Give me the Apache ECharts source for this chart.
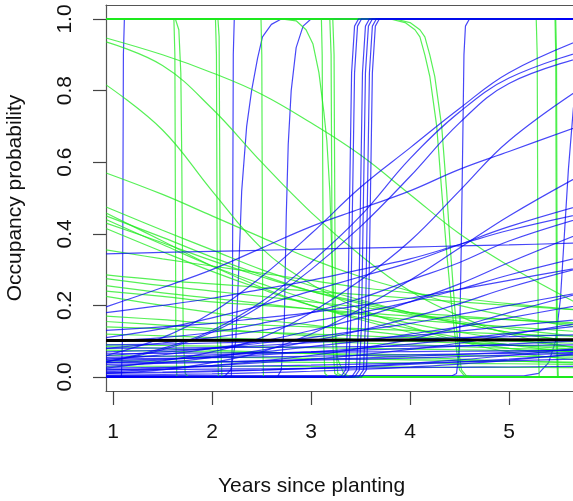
<!DOCTYPE html>
<html><head><meta charset="utf-8">
<script src="https://cdn.jsdelivr.net/npm/echarts@6/dist/echarts.min.js"></script>
<style>html,body{margin:0;padding:0;background:#fff;overflow:hidden}#c{width:573px;height:501px}</style>
</head><body><div id="c"></div>
<script>
// ---- axis values ----
const xs = [0.93, 1.5, 2, 2.5, 3, 3.5, 4, 4.5, 5, 5.8];
const yTicks = [0, 0.2, 0.4, 0.6, 0.8, 1.0];
const xTicks = [1, 2, 3, 4, 5];
const xTitle = 'Years since planting';
const yTitle = 'Occupancy probability';

// ---- green (slowly changing) curves, values at xs ----
const g01 = [0.947,0.90,0.85,0.79,0.71,0.62,0.51,0.40,0.31,0.19];
const g02 = [0.936,0.87,0.75,0.60,0.46,0.34,0.24,0.17,0.12,0.075];
const g03 = [0.816,0.69,0.52,0.36,0.26,0.19,0.14,0.10,0.07,0.045];
const g04 = [0.57,0.51,0.45,0.39,0.33,0.28,0.24,0.20,0.17,0.135];
const g05 = [0.475,0.41,0.355,0.30,0.255,0.215,0.18,0.15,0.125,0.095];
const g06 = [0.458,0.38,0.31,0.25,0.20,0.16,0.125,0.10,0.08,0.055];
const g07 = [0.45,0.39,0.335,0.285,0.24,0.205,0.175,0.15,0.125,0.095];
const g08 = [0.44,0.37,0.31,0.26,0.215,0.18,0.15,0.125,0.105,0.08];
const g09 = [0.43,0.375,0.325,0.28,0.24,0.21,0.18,0.155,0.135,0.11];
const g10 = [0.415,0.35,0.295,0.245,0.20,0.165,0.135,0.11,0.09,0.065];
const g11 = [0.355,0.33,0.31,0.29,0.27,0.25,0.235,0.22,0.205,0.185];
const g12 = [0.285,0.27,0.26,0.25,0.24,0.23,0.22,0.21,0.20,0.185];
const g13 = [0.275,0.255,0.24,0.225,0.21,0.195,0.18,0.17,0.16,0.145];
const g14 = [0.255,0.235,0.22,0.205,0.19,0.175,0.16,0.15,0.14,0.125];
const g15 = [0.24,0.225,0.21,0.20,0.19,0.18,0.17,0.165,0.16,0.15];
const g16 = [0.225,0.20,0.18,0.16,0.145,0.13,0.115,0.10,0.09,0.075];
const g17 = [0.17,0.16,0.15,0.145,0.14,0.135,0.13,0.125,0.12,0.113];
const g18 = [0.155,0.145,0.135,0.125,0.115,0.105,0.10,0.095,0.09,0.083];
const g19 = [0.14,0.135,0.13,0.125,0.12,0.115,0.11,0.105,0.10,0.093];
const g20 = [0.12,0.115,0.11,0.105,0.10,0.095,0.09,0.085,0.08,0.073];
const g21 = [0.09,0.088,0.086,0.084,0.082,0.08,0.078,0.076,0.074,0.071];
const g22 = [0.075,0.072,0.07,0.068,0.066,0.064,0.062,0.06,0.058,0.055];
const g23 = [0.06,0.058,0.056,0.054,0.052,0.05,0.048,0.046,0.044,0.041];
const g24 = [0.045,0.044,0.043,0.042,0.041,0.04,0.039,0.038,0.037,0.035];
const g25 = [0.085,0.08,0.075,0.07,0.065,0.06,0.055,0.05,0.045,0.038];
const g26 = [0.03,0.03,0.03,0.03,0.029,0.029,0.028,0.028,0.027,0.026];
const greenSmooth = [g01,g02,g03,g04,g05,g06,g07,g08,g09,g10,g11,g12,g13,g14,g15,g16,g17,g18,g19,g20,g21,g22,g23,g24,g25,g26];

// ---- green steep drops, [x, y] points ----
const gs01 = [[0.93,1],[1.615,1],[1.625,0.9],[1.63,0.5],[1.635,0.1],[1.645,0],[5.8,0]];
const gs02 = [[0.93,1],[1.63,1],[1.665,0.97],[1.685,0.85],[1.695,0.6],[1.70,0.4],[1.71,0.1],[1.73,0.01],[1.76,0],[5.8,0]];
const gs03 = [[0.93,1],[2.035,1],[2.045,0.9],[2.05,0.5],[2.055,0.1],[2.065,0],[5.8,0]];
const gs04 = [[0.93,1],[2.06,1],[2.072,0.95],[2.08,0.5],[2.087,0.1],[2.1,0],[5.8,0]];
const gs05 = [[0.93,1],[2.495,1],[2.503,0.9],[2.508,0.5],[2.513,0.1],[2.52,0],[5.8,0]];
const gs06 = [[0.93,1],[2.7,1],[2.85,0.995],[2.95,0.97],[3.02,0.93],[3.08,0.85],[3.13,0.74],[3.16,0.66],[3.19,0.52],[3.21,0.35],[3.24,0.15],[3.27,0.05],[3.33,0.01],[3.4,0],[5.8,0]];
const gs07 = [[0.93,1],[3.105,1],[3.113,0.9],[3.12,0.5],[3.127,0.1],[3.14,0.01],[3.18,0],[5.8,0]];
const gs08 = [[0.93,1],[3.19,1],[3.203,0.9],[3.21,0.5],[3.218,0.1],[3.24,0.01],[3.3,0],[5.8,0]];
const gs09 = [[0.93,1],[3.22,1],[3.233,0.9],[3.24,0.5],[3.248,0.1],[3.27,0.01],[3.35,0],[5.8,0]];
const gs10 = [[0.93,1],[3.8,1],[3.95,0.99],[4.05,0.97],[4.10,0.95],[4.15,0.9],[4.2,0.84],[4.24,0.76],[4.27,0.70],[4.32,0.52],[4.37,0.35],[4.42,0.2],[4.47,0.075],[4.5,0.02],[4.55,0.003],[4.65,0],[5.8,0]];
const gs11 = [[0.93,1],[3.85,1],[4.0,0.99],[4.1,0.97],[4.15,0.95],[4.2,0.9],[4.25,0.84],[4.29,0.76],[4.32,0.70],[4.37,0.52],[4.41,0.35],[4.45,0.2],[4.49,0.075],[4.52,0.02],[4.57,0.003],[4.67,0],[5.8,0]];
const gs12 = [[0.93,1],[5.275,1],[5.285,0.9],[5.29,0.5],[5.295,0.1],[5.305,0],[5.8,0]];
const gs13 = [[0.93,1],[5.465,1],[5.472,0.9],[5.476,0.5],[5.48,0.1],[5.49,0],[5.8,0]];
const gs14 = [[0.93,1],[5.472,1],[5.48,0.9],[5.484,0.5],[5.488,0.1],[5.498,0],[5.8,0]];
const greenSteep = [gs01,gs02,gs03,gs04,gs05,gs06,gs07,gs08,gs09,gs10,gs11,gs12,gs13,gs14];

// ---- blue steep rises (early), [x, y] points ----
const bs01 = [[0.93,0],[1.085,0],[1.095,0.1],[1.10,0.5],[1.105,0.9],[1.115,1],[5.8,1]];
const bs02 = [[0.93,0],[2.195,0],[2.205,0.1],[2.21,0.5],[2.215,0.9],[2.225,1],[5.8,1]];
const bs03 = [[0.93,0],[2.12,0],[2.19,0.02],[2.24,0.1],[2.27,0.3],[2.30,0.52],[2.35,0.70],[2.40,0.80],[2.46,0.89],[2.51,0.95],[2.6,0.985],[2.7,1],[5.8,1]];
const bs04 = [[0.93,0],[2.66,0],[2.7,0.02],[2.73,0.15],[2.75,0.45],[2.77,0.65],[2.8,0.8],[2.85,0.92],[2.92,0.98],[3.0,1],[5.8,1]];
const bs05 = [[0.93,0.003],[4.42,0.003],[4.47,0.01],[4.5,0.08],[4.52,0.4],[4.53,0.6],[4.545,0.9],[4.56,0.98],[4.6,1],[5.8,1]];
const bs06 = [[0.93,0.003],[5.15,0.003],[5.3,0.01],[5.4,0.04],[5.47,0.1],[5.52,0.22],[5.56,0.4],[5.6,0.58],[5.65,0.75],[5.7,0.86],[5.8,0.95]];
const blueEarly = [bs01,bs02,bs03,bs04,bs05,bs06];

// ---- blue slowly rising curves, values at xs ----
const b01 = [0.06,0.11,0.18,0.28,0.40,0.53,0.64,0.75,0.85,0.95];
const b02 = [0.043,0.08,0.13,0.21,0.32,0.45,0.61,0.74,0.835,0.915];
const b03 = [0.042,0.076,0.125,0.20,0.30,0.42,0.56,0.71,0.82,0.897];
const b04 = [0.025,0.045,0.07,0.11,0.18,0.27,0.38,0.52,0.66,0.82];
const b05 = [0.196,0.25,0.30,0.36,0.42,0.47,0.52,0.58,0.63,0.71];
const b06 = [0.18,0.20,0.22,0.245,0.27,0.30,0.33,0.37,0.41,0.46];
const b07 = [0.11,0.135,0.165,0.20,0.24,0.28,0.32,0.37,0.42,0.485];
const b08 = [0.10,0.11,0.125,0.15,0.18,0.22,0.27,0.32,0.38,0.45];
const b09 = [0.05,0.062,0.08,0.10,0.13,0.165,0.21,0.26,0.32,0.41];
const b10 = [0.08,0.095,0.11,0.13,0.155,0.18,0.21,0.245,0.285,0.34];
const b11 = [0.03,0.04,0.055,0.075,0.10,0.13,0.165,0.205,0.25,0.31];
const b12 = [0.06,0.07,0.08,0.095,0.11,0.13,0.15,0.175,0.20,0.24];
const b13 = [0.015,0.022,0.032,0.045,0.06,0.08,0.105,0.14,0.18,0.24];
const b14 = [0.04,0.048,0.058,0.07,0.085,0.10,0.12,0.14,0.165,0.205];
const b15 = [0.07,0.075,0.08,0.088,0.096,0.105,0.115,0.128,0.142,0.163];
const b16 = [0.02,0.025,0.032,0.04,0.05,0.062,0.077,0.095,0.118,0.155];
const b17 = [0.09,0.092,0.095,0.098,0.10,0.103,0.106,0.11,0.113,0.119];
const b18 = [0.055,0.058,0.062,0.066,0.07,0.075,0.08,0.086,0.092,0.102];
const b19 = [0.035,0.038,0.041,0.045,0.049,0.053,0.058,0.063,0.069,0.078];
const b20 = [0.012,0.014,0.017,0.02,0.024,0.029,0.035,0.042,0.05,0.065];
const b21 = [0.025,0.027,0.029,0.031,0.033,0.036,0.039,0.042,0.045,0.051];
const b22 = [0.065,0.066,0.067,0.068,0.069,0.07,0.071,0.072,0.073,0.075];
const b23 = [0.005,0.007,0.009,0.012,0.016,0.021,0.028,0.036,0.047,0.068];
const b24 = [0.045,0.05,0.055,0.062,0.07,0.08,0.092,0.106,0.122,0.145];
const b25 = [0.13,0.14,0.15,0.165,0.18,0.20,0.22,0.245,0.27,0.31];
const b26 = [0.01,0.012,0.015,0.019,0.024,0.03,0.038,0.048,0.06,0.083];
const b27 = [0.01,0.02,0.04,0.07,0.12,0.19,0.27,0.36,0.45,0.575];
const b28 = [0.344,0.348,0.351,0.354,0.357,0.36,0.363,0.366,0.369,0.375];
const b29 = [0.05,0.052,0.054,0.056,0.058,0.06,0.062,0.064,0.066,0.069];
const b30 = [0.08,0.081,0.082,0.083,0.084,0.085,0.086,0.087,0.088,0.09];
const b31 = [0.02,0.021,0.022,0.023,0.024,0.025,0.026,0.027,0.028,0.03];
const b32 = [0.04,0.041,0.043,0.045,0.047,0.05,0.053,0.057,0.061,0.067];
const blueSmooth = [b01,b02,b03,b04,b05,b06,b07,b08,b09,b10,b11,b12,b13,b14,b15,b16,b17,b18,b19,b20,b21,b22,b23,b24,b25,b26,b27,b28,b29,b30,b31,b32];

// ---- blue steep rises (late), [x, y] points ----
const bl01 = [[0.93,0],[3.3,0],[3.35,0.02],[3.37,0.15],[3.39,0.5],[3.41,0.85],[3.44,0.98],[3.48,1],[5.8,1]];
const bl02 = [[0.93,0],[3.33,0],[3.38,0.02],[3.40,0.15],[3.42,0.5],[3.44,0.85],[3.47,0.98],[3.51,1],[5.8,1]];
const bl03 = [[0.93,0],[3.41,0],[3.46,0.02],[3.48,0.15],[3.50,0.5],[3.52,0.85],[3.55,0.98],[3.59,1],[5.8,1]];
const bl04 = [[0.93,0],[3.44,0],[3.49,0.02],[3.51,0.15],[3.53,0.5],[3.55,0.85],[3.58,0.98],[3.62,1],[5.8,1]];
const bl05 = [[0.93,0],[3.48,0],[3.53,0.02],[3.55,0.15],[3.57,0.5],[3.59,0.85],[3.62,0.98],[3.66,1],[5.8,1]];
const bl06 = [[0.93,0],[3.51,0],[3.56,0.02],[3.58,0.15],[3.60,0.5],[3.62,0.85],[3.65,0.98],[3.69,1],[5.8,1]];
const blueLate = [bl01,bl02,bl03,bl04,bl05,bl06];

const blackLine = [[0.93,0.102],[5.8,0.104]];

// ---- build ----
const GREEN = 'rgba(30,235,30,0.75)';
const BLUE = 'rgba(0,0,245,0.72)';
function pairs(vals){ return xs.map((x,i)=>[x, vals[i]]); }
function mk(data, color, width, smooth){
  return {type:'line', data, symbol:'none', showSymbol:false, silent:true,
    smooth: smooth ? 0.4 : false, clip:true, xAxisIndex:0, yAxisIndex:0,
    lineStyle:{color, width}, emphasis:{disabled:true}};
}
const series = [];
blueEarly.forEach(d=>series.push(mk(d, BLUE, 1.2, false)));
greenSteep.forEach(d=>series.push(mk(d, GREEN, 1.2, false)));
greenSmooth.forEach(v=>series.push(mk(pairs(v), GREEN, 1.2, true)));
blueSmooth.forEach(v=>series.push(mk(pairs(v), BLUE, 1.2, true)));
blueLate.forEach(d=>series.push(mk(d, BLUE, 1.2, false)));
series.push(mk(blackLine, '#000', 3, false));

const chart = echarts.init(document.getElementById('c'), null, {renderer:'canvas'});
const FONT = 'Liberation Sans, Arial, Helvetica, sans-serif';
const XMIN = 0.9293, XMAX = 0.9293 + 700/99;
const boxLine = {show:true, onZero:false, lineStyle:{color:'#555', width:1.2}};
chart.setOption({
  animation:false,
  backgroundColor:'#fff',
  grid:{left:106, top:5, width:700, height:386, show:false, containLabel:false, outerBoundsMode:'none'},
  xAxis:[
    {type:'value', min:XMIN, max:XMAX, position:'bottom',
      axisLine:boxLine, splitLine:{show:false},
      axisTick:{show:true, customValues:xTicks, length:14, lineStyle:{color:'#444', width:1.2}},
      axisLabel:{customValues:xTicks, fontSize:21, color:'#111', margin:31, fontFamily:FONT,
        formatter:v=>String(v)}},
    {type:'value', min:XMIN, max:XMAX, position:'top',
      axisLine:boxLine, splitLine:{show:false}, axisTick:{show:false}, axisLabel:{show:false}}
  ],
  yAxis:{type:'value', min:-0.0391, max:1.0391, position:'left',
    axisLine:boxLine, splitLine:{show:false},
    axisTick:{show:true, customValues:yTicks, length:13, lineStyle:{color:'#444', width:1.2}},
    axisLabel:{customValues:yTicks, rotate:90, fontSize:21, color:'#111', margin:30, fontFamily:FONT,
      formatter:v=>v.toFixed(1)}},
  graphic:[
    {type:'text', left:218, top:476, style:{text:xTitle, font:'21px '+FONT, fill:'#111'}},
    {type:'text', x:15, y:198, rotation:Math.PI/2, style:{text:yTitle, font:'21px '+FONT, fill:'#111', align:'center', verticalAlign:'middle'}}
  ],
  series
});
</script></body></html>
